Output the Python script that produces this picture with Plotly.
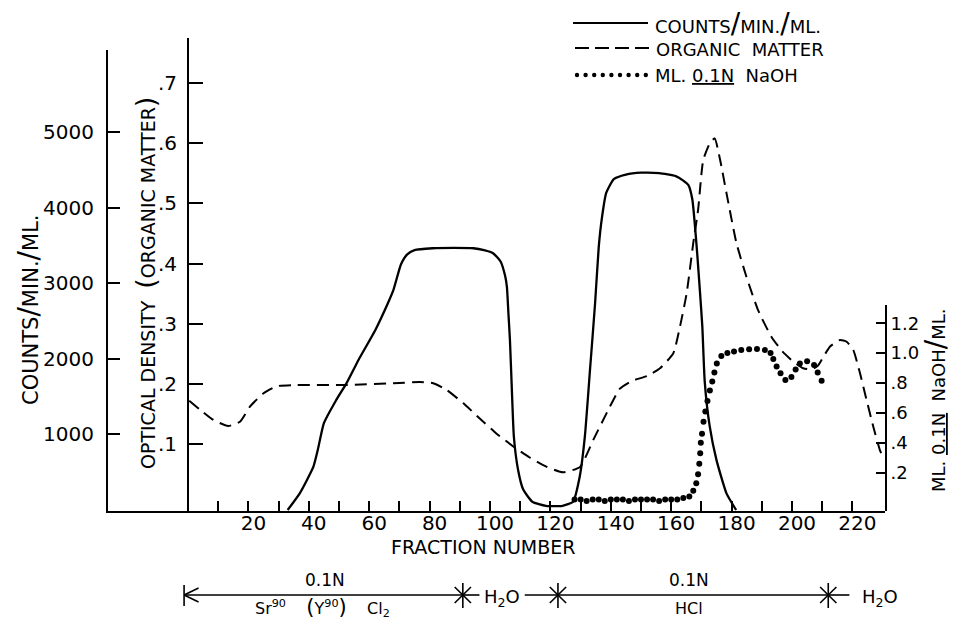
import plotly.graph_objects as go

# ---------------- data ----------------
counts_fraction = [33, 37, 41.5, 43, 45, 49, 52.5, 56.5, 62, 66, 68, 70.5, 72.5, 75, 81, 88,
                   94.5, 98, 101, 103.5, 105, 105.6, 106.1, 106.6, 107.2, 107.9, 109.3, 111,
                   114, 118.5, 124, 127.5, 129.7, 131.4, 133.1, 134.8, 136, 137, 138.5, 141,
                   145, 150, 156, 161.5, 164, 165.7, 167, 167.8, 168.6, 169.5, 170.3, 171.1,
                   172.7, 175, 178.3, 181.5]
counts_per_min = [0, 220, 570, 800, 1150, 1450, 1680, 1990, 2380, 2720, 2910, 3250, 3380, 3440,
                  3465, 3470, 3465, 3440, 3400, 3290, 3100, 2950, 2600, 2250, 1630, 970, 530,
                  270, 110, 55, 55, 110, 440, 970, 1850, 2740, 3480, 3850, 4200, 4380, 4440,
                  4465, 4460, 4420, 4360, 4300, 4110, 3790, 3400, 2900, 2430, 1700, 1120, 660,
                  220, 0]

od_fraction = [0.4, 4, 8.4, 13.3, 17.2, 20.5, 24.9, 29.3, 36, 52.5, 68, 76.8, 81.2, 85.6, 91.1,
               96.7, 102, 107.7, 113, 118.8, 124.2, 129.8, 134.2, 139.7, 143, 147, 152, 156.3,
               160.7, 162.9, 165.1, 167.3, 168.9, 170.6, 172.8, 174.4, 176.2, 178.3, 181.6,
               184.9, 188.8, 193.2, 196.8, 200.4, 203.7, 206.5, 208.7, 210.4, 212.6, 215.9,
               218.1, 220.3, 222.5, 224.7, 226.9, 229.1, 230.5]
optical_density = [0.172, 0.157, 0.140, 0.130, 0.137, 0.162, 0.184, 0.196, 0.198, 0.198, 0.201,
                   0.203, 0.201, 0.190, 0.168, 0.142, 0.118, 0.096, 0.078, 0.062, 0.053, 0.062,
                   0.107, 0.162, 0.192, 0.205, 0.213, 0.226, 0.251, 0.295, 0.350, 0.434, 0.489,
                   0.572, 0.600, 0.608, 0.572, 0.517, 0.434, 0.378, 0.322, 0.278, 0.254, 0.237,
                   0.226, 0.224, 0.231, 0.245, 0.262, 0.273, 0.270, 0.256, 0.218, 0.173, 0.129,
                   0.090, 0.074]

naoh_fraction = [128, 130, 132, 134, 136, 138, 140, 142, 144, 146, 148, 150, 152, 154, 156, 158,
                 160, 162, 164, 166, 167.3, 168.3, 168.9, 169.3, 169.6, 169.8, 170.2, 170.7,
                 171.3, 172.0, 172.8, 173.6, 174.3, 175.1, 176.6, 178.6, 180.8, 183.2, 185.8,
                 188.4, 191.0, 192.9, 193.8, 194.9, 196.2, 197.8, 199.8, 201.2, 202.6, 205.0,
                 207.3, 208.5, 209.8]
naoh_ml = [0.02, 0.02, 0.01, 0.02, 0.02, 0.01, 0.02, 0.02, 0.02, 0.01, 0.02, 0.02, 0.02, 0.02,
           0.01, 0.02, 0.02, 0.02, 0.03, 0.04, 0.08, 0.13, 0.19, 0.26, 0.33, 0.40, 0.46, 0.54,
           0.61, 0.68, 0.75, 0.81, 0.87, 0.93, 0.98, 1.00, 1.01, 1.02, 1.025, 1.027, 1.02, 1.00,
           0.96, 0.91, 0.865, 0.82, 0.84, 0.89, 0.93, 0.945, 0.92, 0.87, 0.815]

x_tickvals = list(range(20, 230, 20))
x_minor_tickvals = list(range(10, 230, 20))
counts_tickvals = [1000, 2000, 3000, 4000, 5000]
od_tickvals = [0.1, 0.2, 0.3, 0.4, 0.5, 0.6, 0.7]
od_ticktext = [".1", ".2", ".3", ".4", ".5", ".6", ".7"]
naoh_tickvals = [0.2, 0.4, 0.6, 0.8, 1.0, 1.2]
naoh_ticktext = [".2", ".4", ".6", ".8", "1.0", "1.2"]

# fraction numbers where the eluent was changed
eluent_breaks = [91, 122.5, 212]

# ---------------- layout helpers ----------------
W, H = 957, 619
FONT = "DejaVu Sans"
INK = "black"


def X(px):
    return px / W


def Y(py):
    return 1 - py / H


fig = go.Figure()

fig.add_trace(go.Scatter(x=counts_fraction, y=counts_per_min, mode="lines",
                         line=dict(color=INK, width=2.3, shape="spline", smoothing=0.5),
                         xaxis="x", yaxis="y", name="COUNTS/MIN./ML.", showlegend=False,
                         hoverinfo="skip"))
fig.add_trace(go.Scatter(x=od_fraction, y=optical_density, mode="lines",
                         line=dict(color=INK, width=2, dash="12px,7px", shape="spline",
                                   smoothing=0.5),
                         xaxis="x", yaxis="y2", name="ORGANIC MATTER", showlegend=False,
                         hoverinfo="skip"))
fig.add_trace(go.Scatter(x=naoh_fraction, y=naoh_ml, mode="markers",
                         marker=dict(color=INK, size=6),
                         xaxis="x", yaxis="y3", name="ML. 0.1N NaOH", showlegend=False,
                         hoverinfo="skip"))

axis_common = dict(showline=True, linecolor=INK, linewidth=2, ticks="inside",
                   tickcolor=INK, tickwidth=2, showgrid=False, zeroline=False)
TICKFONT = dict(family=FONT, size=20, color=INK)

fig.update_layout(
    width=W, height=H, autosize=False,
    margin=dict(l=0, r=0, t=0, b=0, pad=0),
    paper_bgcolor="white", plot_bgcolor="rgba(0,0,0,0)",
    showlegend=False,
    xaxis=dict(domain=[X(108), X(885)], range=[-26.49, 230.79], anchor="y",
               tickmode="array", tickvals=x_tickvals, ticklen=10,
               minor=dict(tickmode="array", tickvals=x_minor_tickvals, ticks="inside",
                          ticklen=10, tickwidth=2, tickcolor=INK, showgrid=False),
               ticklabelshift=5, ticklabelstandoff=-7, tickfont=TICKFONT, **axis_common),
    yaxis=dict(domain=[Y(511), Y(50)], range=[-13.2, 6089.5], anchor="x", side="left",
               tickmode="array", tickvals=counts_tickvals, ticklen=12,
               ticklabelstandoff=8, tickfont=TICKFONT, **axis_common),
    yaxis2=dict(domain=[Y(511), Y(38)], range=[-0.0113, 0.7748], anchor="free",
                position=X(188), side="left", tickmode="array", tickvals=od_tickvals,
                ticktext=od_ticktext, ticklen=14, ticklabelstandoff=6, tickfont=TICKFONT,
                **axis_common),
    yaxis3=dict(domain=[Y(511), Y(305)], range=[-0.0562, 1.3217], anchor="x", side="right",
                tickmode="array", tickvals=naoh_tickvals, ticktext=naoh_ticktext,
                ticklen=9, ticklabelstandoff=0,
                tickfont=dict(family=FONT, size=18, color=INK), **axis_common),
)

SL = "<span style='font-size:28px'>/</span>"
annotations = []


def text(s, px, py, size=16, angle=0, xanchor="center", yanchor="middle", xref="paper",
         xval=None):
    annotations.append(dict(text=s, xref=xref, yref="paper",
                            x=X(px) if xval is None else xval, y=Y(py),
                            xanchor=xanchor, yanchor=yanchor, showarrow=False,
                            textangle=angle,
                            font=dict(family=FONT, size=size, color=INK)))


# axis titles
text("COUNTS" + SL + "MIN." + SL + "ML.", 28, 310, size=21, angle=-90)
text("OPTICAL DENSITY  <span style='font-size:27px'>(</span>ORGANIC MATTER"
     "<span style='font-size:27px'>)</span>", 145, 283, size=19, angle=-90)
text("ML. <u>0.1N</u>  NaOH" + SL + "ML.", 935, 401, size=18, angle=-90)
text("FRACTION NUMBER", 483, 547, size=19)

# legend
text("COUNTS" + SL + "MIN." + SL + "ML.", 653, 23, size=18, xanchor="left")
text("ORGANIC  MATTER", 654, 49, size=18, xanchor="left")
text("ML. <u>0.1N</u>  NaOH", 653, 76, size=18, xanchor="left")

# eluent annotation under the axis
text("0.1N", 0, 580, size=17, xref="x", xval=45.5)
text("Sr<sup>90</sup>    <span style='font-size:21px'>(</span>Y<sup>90</sup>"
     "<span style='font-size:21px'>)</span>    Cl<sub>2</sub>", 0, 607, size=16, xref="x",
     xval=44.5)
text("H<sub>2</sub>O", 0, 598, size=18, xref="x", xval=104)
text("0.1N", 0, 580, size=17, xref="x", xval=166)
text("HCl", 0, 608, size=16, xref="x", xval=166)
text("H<sub>2</sub>O", 0, 598, size=18, xref="x", xval=229)

shapes = []
LW = 1.6


def seg_x(x0, x1, py0, py1, width=LW, dash=None):
    line = dict(color=INK, width=width)
    if dash:
        line["dash"] = dash
    shapes.append(dict(type="line", xref="x", yref="paper", x0=x0, x1=x1,
                       y0=Y(py0), y1=Y(py1), line=line))


def seg_p(px0, px1, py0, py1, width=2, dash=None):
    line = dict(color=INK, width=width)
    if dash:
        line["dash"] = dash
    shapes.append(dict(type="line", xref="paper", yref="paper", x0=X(px0), x1=X(px1),
                       y0=Y(py0), y1=Y(py1), line=line))


LINE_Y = 595
# left end bar with arrow head
seg_x(-1.3, -1.3, 585, 606)
seg_x(-1.3, 3.5, LINE_Y, 588)
seg_x(-1.3, 3.5, LINE_Y, 602)
# horizontal runs
seg_x(-1.3, eluent_breaks[0], LINE_Y, LINE_Y)
seg_x(eluent_breaks[0], 96.5, LINE_Y, LINE_Y)
seg_x(111.5, eluent_breaks[1], LINE_Y, LINE_Y)
seg_x(eluent_breaks[1], eluent_breaks[2], LINE_Y, LINE_Y)
seg_x(eluent_breaks[2], 219, LINE_Y, LINE_Y)
# star marks at each change of eluent
for b in eluent_breaks:
    seg_x(b, b, 583, 608)
    seg_x(b - 2.7, b + 2.7, 587, 603)
    seg_x(b - 2.7, b + 2.7, 603, 587)

# legend samples
seg_p(573, 648, 23, 23, width=2)
seg_p(575, 652, 48, 48, width=2, dash="14px,6px")
for i in range(9):
    cx = 577 + i * 8.6
    shapes.append(dict(type="circle", xref="paper", yref="paper",
                       x0=X(cx - 2.2), x1=X(cx + 2.2), y0=Y(75 + 2.2), y1=Y(75 - 2.2),
                       fillcolor=INK, line=dict(width=0)))

fig.update_layout(annotations=annotations, shapes=shapes)

fig.write_html("out.html",
               config={"displayModeBar": False, "staticPlot": True},
               post_script="document.body.style.margin='0';"
                           "document.body.style.overflow='hidden';")
